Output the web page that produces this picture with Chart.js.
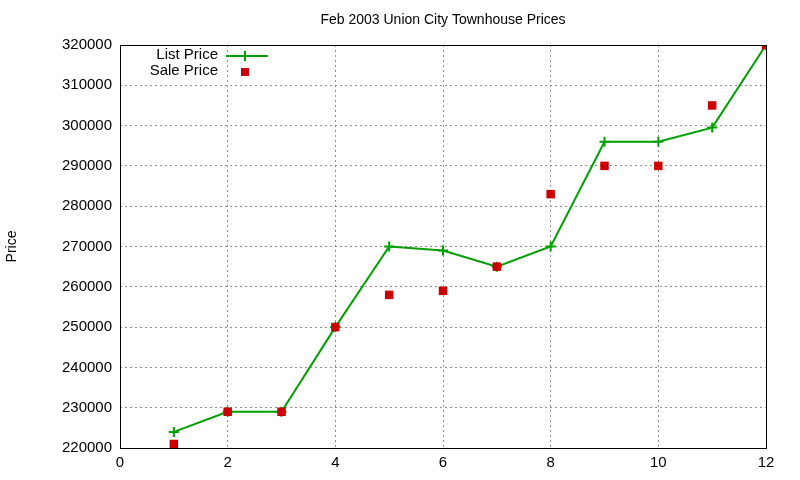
<!DOCTYPE html>
<html><head><meta charset="utf-8">
<script src="https://cdn.jsdelivr.net/npm/chart.js@4"></script>
<style>html,body{margin:0;padding:0;background:#fff}#wrap{width:800px;height:480px}</style>
</head><body><div id="wrap"><canvas id="c" width="800" height="480"></canvas></div>
<script>
const months = [1,2,3,4,5,6,7,8,9,10,11,12];
const listPrice = [224000,229000,229000,250000,270000,269000,265000,270000,296000,296000,299500,320000];
const salePrice = [221000,229000,229000,250000,258000,259000,265000,283000,290000,290000,305000,320000];
const xTicks = [0,2,4,6,8,10,12];
const titleText = 'Feb 2003 Union City Townhouse Prices';
const yLabel = 'Price';
const FONT = '"Liberation Sans", Arial, sans-serif';

const extras = {
  id:'extras',
  afterDraw(chart){
    const ctx = chart.ctx, a = chart.chartArea;
    ctx.save();
    ctx.strokeStyle='#000'; ctx.lineWidth=1;
    ctx.strokeRect(a.left+0.5,a.top+0.5,a.right-a.left,a.bottom-a.top);
    ctx.fillStyle='#000'; ctx.font='14px '+FONT;
    ctx.textAlign='center'; ctx.textBaseline='middle';
    ctx.fillText(titleText,(a.left+a.right)/2,20);
    ctx.translate(12,(a.top+a.bottom)/2); ctx.rotate(-Math.PI/2);
    ctx.fillText(yLabel,0,0);
    ctx.restore();
    ctx.save();
    ctx.font='15px '+FONT; ctx.fillStyle='#000'; ctx.textAlign='right'; ctx.textBaseline='middle';
    const ds = chart.data.datasets;
    ctx.fillText(ds[0].label,218,55);
    ctx.fillText(ds[1].label,218,71);
    ctx.strokeStyle='#00a000'; ctx.lineWidth=2;
    ctx.beginPath(); ctx.moveTo(226,56); ctx.lineTo(268,56); ctx.stroke();
    ctx.beginPath(); ctx.moveTo(240,56); ctx.lineTo(250,56); ctx.moveTo(245,51); ctx.lineTo(245,61); ctx.stroke();
    ctx.fillStyle='#cc0000'; ctx.fillRect(241,68,8,8);
    ctx.restore();
  }
};

const gridOpts = {color:'#909090',drawTicks:false,lineWidth:1};
new Chart(document.getElementById('c'),{
  type:'line',
  data:{datasets:[
    {label:'List Price',order:1,data:months.map((m,i)=>({x:m,y:listPrice[i]})),borderColor:'#00a000',backgroundColor:'#00a000',borderWidth:2,pointStyle:'cross',pointRadius:5,pointBorderWidth:2,tension:0},
    {label:'Sale Price',order:0,data:months.map((m,i)=>({x:m,y:salePrice[i]})),showLine:false,borderColor:'#cc0000',backgroundColor:'#cc0000',pointStyle:'rect',pointRadius:6,pointBorderWidth:0}
  ]},
  options:{
    responsive:false,animation:false,
    layout:{padding:{left:0,top:45,right:34,bottom:0}},
    plugins:{legend:{display:false},title:{display:false},tooltip:{enabled:false}},
    scales:{
      x:{type:'linear',min:0,max:12,afterBuildTicks:s=>{s.ticks=xTicks.map(v=>({value:v}));},
        afterFit:s=>{s.height=32;},
        grid:gridOpts,border:{display:false,dash:[2,3]},
        ticks:{color:'#000',font:{family:FONT,size:15},padding:6}},
      y:{min:220000,max:320000,ticks:{stepSize:10000,color:'#000',font:{family:FONT,size:15},padding:8,callback:v=>String(v)},
        afterFit:s=>{s.width=120;},
        grid:gridOpts,border:{display:false,dash:[2,3]}}
    }
  },
  plugins:[extras]
});
</script></body></html>
